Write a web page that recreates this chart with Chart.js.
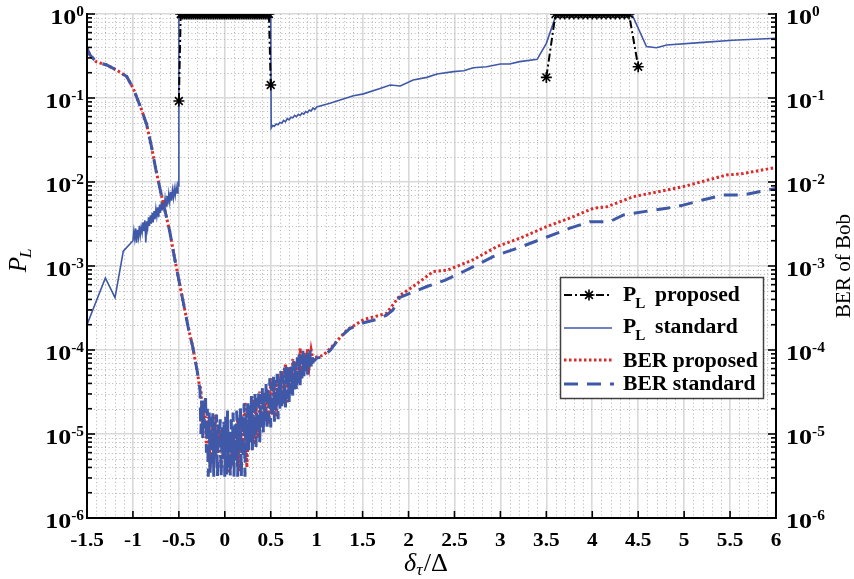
<!DOCTYPE html>
<html>
<head>
<meta charset="utf-8">
<script src="https://cdn.jsdelivr.net/npm/chart.js@4.4.1/dist/chart.umd.min.js"></script>
<style>
html, body { margin: 0; padding: 0; background: #fff; }
canvas { display: block; }
</style>
</head>
<body>
<canvas id="plot" width="854" height="579"></canvas>
<script>
// Data -----------------------------------------------------------------------------------

var X_TICKS = [-1.5, -1, -0.5, 0, 0.5, 1, 1.5, 2, 2.5, 3, 3.5, 4, 4.5, 5, 5.5, 6];
var Y_DECADES = [-6, -5, -4, -3, -2, -1, 0];

var PL_PROP_X = [-0.5,
    -0.48, -0.46, -0.44, -0.42, -0.4, -0.38, -0.36, -0.34, -0.32, -0.3, -0.28, -0.26, -0.24, -0.22, -0.2,
    -0.18, -0.16, -0.14, -0.12, -0.1, -0.08, -0.06, -0.04, -0.02, 0, 0.02, 0.04, 0.06, 0.08, 0.1,
    0.12, 0.14, 0.16, 0.18, 0.2, 0.22, 0.24, 0.26, 0.28, 0.3, 0.32, 0.34, 0.36, 0.38, 0.4,
    0.42, 0.44, 0.46, 0.48,
    0.5,
    2.0,
    3.5, 3.6, 3.65, 3.7, 3.75, 3.8, 3.85, 3.9, 3.95, 4.0, 4.05, 4.1, 4.15, 4.2, 4.25, 4.3, 4.35, 4.4, 4.5];
var PL_PROP_Y = [0.092,
    1, 1, 1, 1, 1, 1, 1, 1, 1, 1, 1, 1, 1, 1, 1,
    1, 1, 1, 1, 1, 1, 1, 1, 1, 1, 1, 1, 1, 1, 1,
    1, 1, 1, 1, 1, 1, 1, 1, 1, 1, 1, 1, 1, 1, 1,
    1, 1, 1, 1,
    0.143,
    null,
    0.176, 1, 1, 1, 1, 1, 1, 1, 1, 1, 1, 1, 1, 1, 1, 1, 1, 1, 0.236];

var PL_STD_X = [-1.5, -1.3, -1.195, -1.105,
    -1.0, -0.99, -0.98, -0.97, -0.96, -0.95, -0.94, -0.93, -0.92, -0.91,
    -0.9, -0.89, -0.88, -0.87, -0.86, -0.85, -0.84, -0.83, -0.82, -0.81,
    -0.8, -0.79, -0.78, -0.77, -0.76, -0.75, -0.74, -0.73, -0.72, -0.71,
    -0.7, -0.69, -0.68, -0.67, -0.66, -0.65, -0.64, -0.63, -0.62, -0.61,
    -0.6, -0.59, -0.58, -0.57, -0.56, -0.55, -0.54, -0.53, -0.52, -0.51, -0.505,
    -0.5, 0.5,
    0.505, 0.52, 0.54, 0.56, 0.58, 0.6, 0.62, 0.64, 0.66, 0.68, 0.7, 0.72, 0.74, 0.76, 0.78,
    0.8, 0.82, 0.84, 0.86, 0.88, 0.9, 0.92, 0.94, 0.96, 0.98, 1.0,
    1.145, 1.4, 1.51, 1.69, 1.8, 1.91, 2.05, 2.2, 2.31, 2.49, 2.6, 2.705, 2.85, 3.0, 3.1, 3.21,
    3.4, 3.5, 3.61,
    4.43, 4.59, 4.7, 4.81, 5.17, 5.53, 6.0];
var PL_STD_Y = [2.0e-4, 7.2e-4, 4.2e-4, 1.5e-3,
    2.0e-3, 2.6e-3, 2.1e-3, 2.8e-3, 1.9e-3, 2.7e-3, 2.2e-3, 3.0e-3, 2.3e-3, 2.9e-3,
    2.5e-3, 3.3e-3, 2.6e-3, 3.5e-3, 1.9e-3, 3.4e-3, 2.8e-3, 3.8e-3, 3.0e-3, 4.0e-3,
    3.2e-3, 4.3e-3, 3.3e-3, 4.5e-3, 3.6e-3, 4.8e-3, 3.9e-3, 5.0e-3, 3.8e-3, 5.4e-3,
    4.3e-3, 5.8e-3, 4.6e-3, 6.1e-3, 4.8e-3, 6.4e-3, 5.2e-3, 6.8e-3, 5.4e-3, 7.2e-3,
    5.8e-3, 7.6e-3, 6.0e-3, 8.0e-3, 6.5e-3, 8.3e-3, 6.9e-3, 8.7e-3, 7.4e-3, 9.3e-3, 9.0e-3,
    1, 1,
    0.044, 0.047, 0.046, 0.049, 0.048, 0.051, 0.050, 0.054, 0.052, 0.057, 0.055, 0.059, 0.058, 0.062, 0.060,
    0.064, 0.062, 0.066, 0.064, 0.069, 0.067, 0.072, 0.070, 0.076, 0.073, 0.078,
    0.0865, 0.1066, 0.112, 0.130, 0.143, 0.139, 0.164, 0.176, 0.193, 0.206, 0.211, 0.229, 0.236, 0.254, 0.254, 0.271,
    0.289, 0.448, 1,
    1, 0.41, 0.397, 0.428, 0.456, 0.486, 0.514];

// both BER curves share the same falling edge
var BER_HEAD_X = [-1.5, -1.467, -1.4, -1.286, -1.177, -1.068, -0.996, -0.905, -0.85, -0.8, -0.75,
    -0.7, -0.65, -0.6, -0.55, -0.5, -0.45, -0.4, -0.35, -0.3, -0.28];
var BER_HEAD_Y = [0.39, 0.325, 0.27, 0.247, 0.215, 0.18, 0.13, 0.072, 0.048, 0.027, 0.014,
    7.8e-3, 4.5e-3, 2.6e-3, 1.3e-3, 6.8e-4, 3.6e-4, 1.9e-4, 1.1e-4, 5.6e-5, 4.0e-5];

var BER_STD_NOISE_X = [-0.27, -0.26, -0.25, -0.24, -0.23, -0.22, -0.21, -0.2, -0.19, -0.18,
    -0.17, -0.16, -0.15, -0.14, -0.13, -0.12, -0.11, -0.1, -0.09, -0.08,
    -0.07, -0.06, -0.05, -0.04, -0.03, -0.02, -0.01, 0, 0.01, 0.02,
    0.03, 0.04, 0.05, 0.06, 0.07, 0.08, 0.09, 0.1, 0.11, 0.12,
    0.13, 0.14, 0.15, 0.16, 0.17, 0.18, 0.19, 0.2, 0.21, 0.22,
    0.23, 0.24, 0.25, 0.26, 0.27, 0.28, 0.29, 0.3, 0.31, 0.32,
    0.33, 0.34, 0.35, 0.36, 0.37, 0.38, 0.39, 0.4, 0.41, 0.42,
    0.43, 0.44, 0.45, 0.46, 0.47, 0.48, 0.49, 0.5, 0.51, 0.52,
    0.53, 0.54, 0.55, 0.56, 0.57, 0.58, 0.59, 0.6, 0.61, 0.62,
    0.63, 0.64, 0.65, 0.66, 0.67, 0.68, 0.69, 0.7, 0.71, 0.72,
    0.73, 0.74, 0.75, 0.76, 0.77, 0.78, 0.79, 0.8, 0.81, 0.82,
    0.83, 0.84, 0.85, 0.86, 0.87, 0.88, 0.89, 0.9, 0.91, 0.92,
    0.93, 0.94, 0.95, 0.96, 1.0];
var BER_STD_NOISE_Y = [3.3e-5, 1.0e-5, 2.8e-5, 9.0e-6, 2.5e-5, 1.2e-5, 3.0e-5, 6.0e-6, 2.0e-5, 3.1e-6,
    1.8e-5, 3.1e-6, 1.6e-5, 4.5e-6, 1.9e-5, 3.1e-6, 1.4e-5, 5.5e-6, 1.7e-5, 3.1e-6,
    1.3e-5, 7.0e-6, 1.5e-5, 3.1e-6, 1.2e-5, 5.0e-6, 1.4e-5, 3.1e-6, 1.6e-5, 3.1e-6,
    1.9e-5, 4.0e-6, 1.1e-5, 3.1e-6, 1.5e-5, 4.6e-6, 1.8e-5, 3.1e-6, 1.3e-5, 4.6e-6,
    1.9e-5, 3.1e-6, 1.6e-5, 6.5e-6, 2.1e-5, 3.1e-6, 1.8e-5, 5.0e-6, 2.3e-5, 3.1e-6,
    1.7e-5, 6.5e-6, 2.6e-5, 6.4e-6, 2.2e-5, 8.0e-6, 2.9e-5, 6.4e-6, 2.4e-5, 9.0e-6,
    3.2e-5, 7.0e-6, 2.7e-5, 1.0e-5, 3.4e-5, 8.0e-6, 3.0e-5, 1.1e-5, 3.6e-5, 1.0e-5,
    3.1e-5, 1.3e-5, 4.2e-5, 1.1e-5, 3.8e-5, 1.4e-5, 4.6e-5, 1.2e-5, 4.0e-5, 1.6e-5,
    4.8e-5, 1.4e-5, 4.4e-5, 1.8e-5, 5.2e-5, 1.5e-5, 4.6e-5, 2.0e-5, 5.6e-5, 1.9e-5,
    5.0e-5, 2.3e-5, 6.2e-5, 2.0e-5, 6.8e-5, 2.6e-5, 5.8e-5, 2.4e-5, 7.0e-5, 3.0e-5,
    6.4e-5, 2.8e-5, 7.4e-5, 3.4e-5, 6.8e-5, 3.2e-5, 8.2e-5, 4.0e-5, 9.2e-5, 3.8e-5,
    8.6e-5, 4.6e-5, 9.8e-5, 4.4e-5, 8.8e-5, 5.2e-5, 1.02e-4, 5.0e-5, 9.4e-5, 5.8e-5,
    1.0e-4, 6.4e-5, 9.0e-5, 7.2e-5, 8.0e-5];

var BER_PROP_NOISE_X = [-0.26, -0.24, -0.22, -0.2, -0.18, -0.16, -0.14, -0.12, -0.1, -0.08,
    -0.06, -0.04, -0.02, 0, 0.02, 0.04, 0.06, 0.08, 0.1, 0.12,
    0.14, 0.16, 0.18, 0.2, 0.22, 0.24, 0.26, 0.28, 0.3, 0.32,
    0.34, 0.36, 0.38, 0.4, 0.42, 0.44, 0.46, 0.48, 0.5, 0.52,
    0.54, 0.56, 0.58, 0.6, 0.62, 0.64, 0.66, 0.68, 0.7, 0.72,
    0.74, 0.76, 0.78, 0.8, 0.82, 0.84, 0.86, 0.88, 0.9, 0.92,
    0.94, 0.96, 1.0];
var BER_PROP_NOISE_Y = [3.4e-5, 1.1e-5, 2.2e-5, 7.0e-6, 1.6e-5, 4.0e-6, 1.3e-5, 5.0e-6, 1.7e-5, 8.0e-6,
    1.2e-5, 3.6e-6, 1.0e-5, 6.5e-6, 1.4e-5, 3.4e-6, 9.0e-6, 4.2e-6, 1.2e-5, 5.0e-6,
    1.5e-5, 3.6e-6, 1.7e-5, 7.5e-6, 2.4e-5, 4.0e-6, 1.5e-5, 8.0e-6, 2.8e-5, 7.5e-6,
    2.3e-5, 9.0e-6, 3.2e-5, 1.2e-5, 3.0e-5, 1.4e-5, 3.1e-5, 1.3e-5, 4.6e-5, 1.7e-5,
    3.9e-5, 1.6e-5, 5.2e-5, 2.3e-5, 5.6e-5, 2.6e-5, 6.9e-5, 2.3e-5, 6.2e-5, 3.2e-5,
    7.8e-5, 3.5e-5, 7.4e-5, 4.5e-5, 1.05e-4, 5.0e-5, 9.4e-5, 5.6e-5, 1.04e-4, 6.6e-5,
    1.0e-4, 7.6e-5, 8.3e-5];

var BER_STD_TAIL_X = [1.07, 1.15, 1.25, 1.36, 1.5, 1.65, 1.76, 1.83, 1.9, 2.05, 2.2, 2.4, 2.6, 2.78, 2.92,
    3.05, 3.18, 3.5, 3.75, 3.97, 4.19, 4.34, 4.6, 4.81, 4.99, 5.2, 5.43, 5.64, 6.0];
var BER_STD_TAIL_Y = [8.3e-5, 1.0e-4, 1.4e-4, 1.8e-4, 2.1e-4, 2.3e-4, 2.6e-4, 3.0e-4, 4.2e-4, 4.9e-4, 5.7e-4,
    6.8e-4, 8.6e-4, 1.08e-3, 1.29e-3, 1.45e-3, 1.62e-3, 2.2e-3, 2.8e-3, 3.37e-3, 3.37e-3, 4.05e-3,
    4.5e-3, 4.86e-3, 5.3e-3, 6.1e-3, 7.0e-3, 7.0e-3, 8.4e-3];

var BER_PROP_TAIL_X = [1.07, 1.15, 1.33, 1.51, 1.76, 1.91, 2.05, 2.27, 2.42, 2.7, 2.96, 3.21, 3.5, 3.75,
    4.01, 4.16, 4.45, 4.99, 5.46, 5.64, 6.0];
var BER_PROP_TAIL_Y = [8.6e-5, 1.05e-4, 1.73e-4, 2.3e-4, 2.73e-4, 4.5e-4, 5.7e-4, 8.6e-4, 8.9e-4, 1.18e-3,
    1.7e-3, 2.14e-3, 2.94e-3, 3.7e-3, 4.86e-3, 5.08e-3, 6.7e-3, 8.8e-3, 1.21e-2, 1.26e-2, 1.49e-2];

// Styles ---------------------------------------------------------------------------------

var BLUE = '#3f58a8';
var RED = '#dc2b2b';
var GRID_MAJOR = '#d9d9d9';
var GRID_MINOR = '#b4b4b4';
var SERIF = '"Liberation Serif", "Times New Roman", serif';

var XTICK_SX = 1.12;  // the source figure is stretched sideways
var YTICK_SX = 1.3;
var LEGEND_SX = 1.08;

// Helpers --------------------------------------------------------------------------------

function toPoints(xs, ys) {
    return xs.map(function (x, i) { return { x: x, y: ys[i] }; });
}

function textWidth(ctx, text, font, sx) {
    ctx.font = font;
    return ctx.measureText(text).width * sx;
}

function drawText(ctx, text, x, y, font, sx) {
    ctx.save();
    ctx.font = font;
    ctx.textAlign = 'left';
    ctx.textBaseline = 'alphabetic';
    ctx.translate(x, y);
    ctx.scale(sx, 1);
    ctx.fillText(text, 0, 0);
    ctx.restore();
}

function drawPower(ctx, exp, x, y, align) {
    var baseFont = 'bold 20px ' + SERIF;
    var expFont = 'bold 14px ' + SERIF;
    var e = String(exp);
    var w1 = textWidth(ctx, '10', baseFont, YTICK_SX);
    var w2 = textWidth(ctx, e, expFont, 1.1);
    var x0 = align === 'right' ? x - w1 - w2 : x;
    drawText(ctx, '10', x0, y, baseFont, YTICK_SX);
    drawText(ctx, e, x0 + w1, y - 8, expFont, 1.1);
}

function line(ctx, x1, y1, x2, y2) {
    ctx.beginPath();
    ctx.moveTo(x1, y1);
    ctx.lineTo(x2, y2);
    ctx.stroke();
}

function drawStar(ctx, x, y, r) {
    ctx.beginPath();
    for (var k = 0; k < 4; k++) {
        var a = k * Math.PI / 4;
        ctx.moveTo(x - r * Math.cos(a), y - r * Math.sin(a));
        ctx.lineTo(x + r * Math.cos(a), y + r * Math.sin(a));
    }
    ctx.stroke();
}

// Plugin: minor grid, axes, labels, legend -----------------------------------------------

var matlabAxes = {
    id: 'matlabAxes',

    beforeDatasetsDraw: function (chart) {
        var ctx = chart.ctx;
        var xs = chart.scales.x, ys = chart.scales.y;
        var a = chart.chartArea;
        ctx.save();
        ctx.strokeStyle = GRID_MINOR;
        ctx.lineWidth = 1;
        ctx.setLineDash([1, 2.6]);
        for (var k = -15; k <= 60; k++) {
            if (k % 5 === 0) continue;
            var px = Math.round(xs.getPixelForValue(k / 10)) + 0.5;
            line(ctx, px, a.top, px, a.bottom);
        }
        for (var d = -6; d < 0; d++) {
            for (var m = 2; m < 10; m++) {
                var py = Math.round(ys.getPixelForValue(m * Math.pow(10, d))) + 0.5;
                line(ctx, a.left, py, a.right, py);
            }
        }
        ctx.restore();
    },

    afterDatasetsDraw: function (chart) {
        var ctx = chart.ctx;
        var xs = chart.scales.x, ys = chart.scales.y, ys2 = chart.scales.y2;
        var a = chart.chartArea;
        ctx.save();

        // axis lines
        ctx.strokeStyle = '#000';
        ctx.lineWidth = 2;
        ctx.setLineDash([]);
        line(ctx, a.left, a.top - 1, a.left, a.bottom + 1);
        line(ctx, a.right, a.top - 1, a.right, a.bottom + 1);
        line(ctx, a.left - 1, a.bottom, a.right + 1, a.bottom);

        // ticks
        ctx.lineWidth = 1.6;
        X_TICKS.forEach(function (v) {
            var px = xs.getPixelForValue(v);
            line(ctx, px, a.bottom, px, a.bottom - 7);
        });
        Y_DECADES.forEach(function (e) {
            var py = ys.getPixelForValue(Math.pow(10, e));
            line(ctx, a.left, py, a.left + 8, py);
            var py2 = ys2.getPixelForValue(Math.pow(10, e));
            line(ctx, a.right, py2, a.right - 8, py2);
            if (e === 0) return;
            for (var m = 2; m < 10; m++) {
                var v = m * Math.pow(10, e);
                line(ctx, a.left, ys.getPixelForValue(v), a.left + 5, ys.getPixelForValue(v));
                line(ctx, a.right, ys2.getPixelForValue(v), a.right - 5, ys2.getPixelForValue(v));
            }
        });

        // tick labels
        ctx.fillStyle = '#000';
        var xFont = 'bold 19px ' + SERIF;
        X_TICKS.forEach(function (v) {
            var t = String(v);
            var w = textWidth(ctx, t, xFont, XTICK_SX);
            drawText(ctx, t, xs.getPixelForValue(v) - w / 2, a.bottom + 28, xFont, XTICK_SX);
        });
        Y_DECADES.forEach(function (e) {
            drawPower(ctx, e, a.left - 3, ys.getPixelForValue(Math.pow(10, e)) + 10, 'right');
            drawPower(ctx, e, a.right + 10, ys2.getPixelForValue(Math.pow(10, e)) + 10, 'left');
        });

        // x title: delta_tau / Delta
        var cx = (a.left + a.right) / 2 - 6;
        var f1 = 'italic 25px ' + SERIF, f2 = 'italic 17px ' + SERIF, f3 = '25px ' + SERIF;
        var wd = textWidth(ctx, '\u03B4', f1, 1.05);
        var wt = textWidth(ctx, '\u03C4', f2, 1.05);
        var ws = textWidth(ctx, '/\u0394', f3, 1.05);
        var x0 = cx - (wd + wt + ws) / 2;
        drawText(ctx, '\u03B4', x0, 571, f1, 1.05);
        drawText(ctx, '\u03C4', x0 + wd, 575, f2, 1.05);
        drawText(ctx, '/\u0394', x0 + wd + wt + 1, 571, f3, 1.05);

        // left title: P_L
        ctx.save();
        ctx.translate(26, 260);
        ctx.rotate(-Math.PI / 2);
        var pf = 'italic 25px ' + SERIF, lf = 'italic 17px ' + SERIF;
        var wp = textWidth(ctx, 'P', pf, 1);
        var wl = textWidth(ctx, 'L', lf, 1);
        drawText(ctx, 'P', -(wp + wl) / 2, 0, pf, 1);
        drawText(ctx, 'L', -(wp + wl) / 2 + wp - 1, 5, lf, 1);
        ctx.restore();

        // right title
        ctx.save();
        ctx.translate(850, (a.top + a.bottom) / 2);
        ctx.rotate(-Math.PI / 2);
        var rf = '20px ' + SERIF;
        var wr = textWidth(ctx, 'BER of Bob', rf, 1.05);
        drawText(ctx, 'BER of Bob', -wr / 2, 0, rf, 1.05);
        ctx.restore();

        // legend
        var bx = 560.5, by = 277.5, bw = 203, bh = 121;
        ctx.fillStyle = '#fff';
        ctx.fillRect(bx, by, bw, bh);
        ctx.strokeStyle = '#404040';
        ctx.lineWidth = 1.5;
        ctx.strokeRect(bx, by, bw, bh);

        var lx1 = 564, lx2 = 612, tx = 623;
        var lfBig = 'bold 20px ' + SERIF, lfSub = 'bold 14px ' + SERIF;

        ctx.strokeStyle = '#000';
        ctx.lineWidth = 2;
        ctx.setLineDash([8, 3, 2, 3]);
        line(ctx, lx1, 295, lx2, 295);
        ctx.setLineDash([]);
        ctx.lineWidth = 1.6;
        drawStar(ctx, 589, 295, 5.5);

        ctx.strokeStyle = BLUE;
        ctx.lineWidth = 1.6;
        line(ctx, lx1, 328, lx2, 328);

        ctx.strokeStyle = RED;
        ctx.lineWidth = 3;
        ctx.setLineDash([2.5, 2.5]);
        line(ctx, lx1, 360, lx2, 360);

        ctx.strokeStyle = BLUE;
        ctx.setLineDash([14, 9]);
        line(ctx, lx1, 384, lx2 + 2, 384);
        ctx.setLineDash([]);

        ctx.fillStyle = '#000';
        var wP = textWidth(ctx, 'P', lfBig, LEGEND_SX);
        drawText(ctx, 'P', tx, 301, lfBig, LEGEND_SX);
        drawText(ctx, 'L', tx + wP - 1, 308, lfSub, LEGEND_SX);
        drawText(ctx, 'proposed', 655, 301, lfBig, LEGEND_SX);
        drawText(ctx, 'P', tx, 333, lfBig, LEGEND_SX);
        drawText(ctx, 'L', tx + wP - 1, 340, lfSub, LEGEND_SX);
        drawText(ctx, 'standard', 655, 333, lfBig, LEGEND_SX);
        drawText(ctx, 'BER proposed', tx, 367, lfBig, LEGEND_SX);
        drawText(ctx, 'BER standard', tx, 390, lfBig, LEGEND_SX);

        ctx.restore();
    }
};

// Chart ----------------------------------------------------------------------------------

function zeroHeight(scale) { scale.height = 0; scale.paddingLeft = 0; scale.paddingRight = 0; }
function zeroWidth(scale) { scale.width = 0; scale.paddingTop = 0; scale.paddingBottom = 0; }
function decadeTicks(scale) {
    scale.ticks = Y_DECADES.map(function (e) { return { value: Math.pow(10, e) }; });
}

var datasets = [
    {
        label: 'P_L proposed',
        data: toPoints(PL_PROP_X, PL_PROP_Y),
        borderColor: '#000',
        borderWidth: 2,
        borderDash: [8, 3, 2, 3],
        pointStyle: 'star',
        pointRadius: 5.5,
        pointBorderWidth: 1.6,
        pointBorderColor: '#000',
        spanGaps: false,
        clip: 0
    },
    {
        label: 'BER standard',
        data: toPoints(BER_HEAD_X.concat(BER_STD_NOISE_X, BER_STD_TAIL_X),
            BER_HEAD_Y.concat(BER_STD_NOISE_Y, BER_STD_TAIL_Y)),
        borderColor: BLUE,
        borderWidth: 3,
        borderDash: [14, 9],
        pointRadius: 0,
        clip: 0
    },
    {
        label: 'BER proposed',
        data: toPoints(BER_HEAD_X.concat(BER_PROP_NOISE_X, BER_PROP_TAIL_X),
            BER_HEAD_Y.concat(BER_PROP_NOISE_Y, BER_PROP_TAIL_Y)),
        borderColor: RED,
        borderWidth: 3,
        borderDash: [2.5, 2.5],
        pointRadius: 0,
        clip: 0
    },
    {
        label: 'P_L standard',
        data: toPoints(PL_STD_X, PL_STD_Y),
        borderColor: BLUE,
        borderWidth: 1.6,
        pointRadius: 0,
        clip: 0
    }
];

new Chart(document.getElementById('plot').getContext('2d'), {
    type: 'line',
    data: { datasets: datasets },
    options: {
        responsive: false,
        animation: false,
        devicePixelRatio: 1,
        layout: { padding: { left: 87, right: 78, top: 14, bottom: 61 } },
        plugins: { legend: { display: false }, tooltip: { enabled: false } },
        elements: { line: { tension: 0, fill: false } },
        scales: {
            x: {
                type: 'linear', min: -1.5, max: 6,
                ticks: { display: false, stepSize: 0.5 },
                grid: { color: GRID_MAJOR, lineWidth: 1.6, drawTicks: false },
                border: { display: false },
                afterFit: zeroHeight
            },
            y: {
                type: 'logarithmic', position: 'left', min: 1e-6, max: 1,
                ticks: { display: false },
                grid: { color: GRID_MAJOR, lineWidth: 1.6, drawTicks: false },
                border: { display: false },
                afterBuildTicks: decadeTicks,
                afterFit: zeroWidth
            },
            y2: {
                type: 'logarithmic', position: 'right', min: 1e-6, max: 1,
                ticks: { display: false },
                grid: { display: false, drawTicks: false },
                border: { display: false },
                afterBuildTicks: decadeTicks,
                afterFit: zeroWidth
            }
        }
    },
    plugins: [matlabAxes]
});
</script>
</body>
</html>
